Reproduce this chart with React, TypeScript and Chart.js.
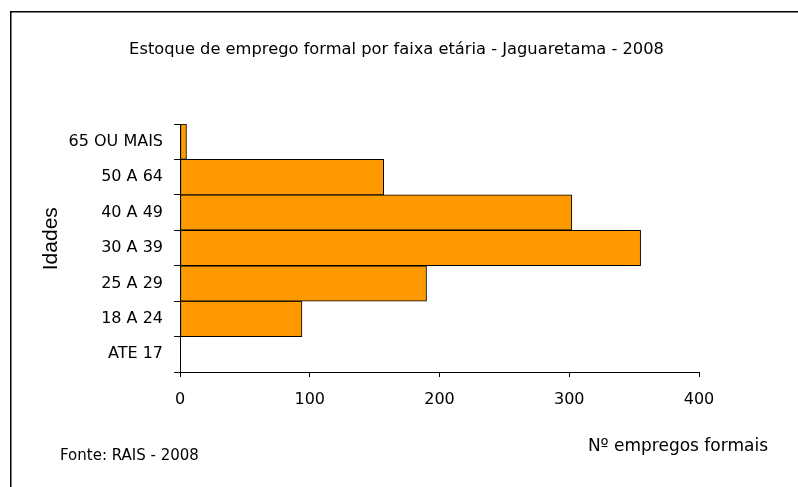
import { useEffect, useRef } from "react";
import { Chart, registerables } from "chart.js";

Chart.register(...registerables);

const categories = ["ATE 17", "18 A 24", "25 A 29", "30 A 39", "40 A 49", "50 A 64", "65 OU MAIS"];
const empregos = [0, 94, 190, 355, 302, 157, 5];
const xTicks = [0, 100, 200, 300, 400];

const titleText = "Estoque de emprego formal por faixa etária - Jaguaretama - 2008";
const yTitle = "Idades";
const xTitle = "Nº empregos formais";
const sourceText = "Fonte: RAIS - 2008";

const FONT = "'DejaVu Sans', sans-serif";

const extrasPlugin = {
  id: "extras",
  beforeDraw(chart: any) {
    const ctx = chart.ctx;
    ctx.save();
    ctx.fillStyle = "#ffffff";
    ctx.fillRect(0, 0, chart.width, chart.height);
    ctx.strokeStyle = "#000000";
    ctx.lineWidth = 1.5;
    ctx.beginPath();
    ctx.moveTo(10.75, chart.height + 5);
    ctx.lineTo(10.75, 11.75);
    ctx.lineTo(chart.width + 5, 11.75);
    ctx.stroke();
    ctx.restore();
  },
  afterDraw(chart: any) {
    const ctx = chart.ctx;
    ctx.save();
    ctx.fillStyle = "#000000";
    ctx.textBaseline = "alphabetic";
    // title
    ctx.font = "16.3px " + FONT;
    ctx.textAlign = "center";
    ctx.fillText(titleText, 396.5, 54);
    // y axis title
    ctx.save();
    ctx.translate(57.3, 238.7);
    ctx.rotate(-Math.PI / 2);
    ctx.font = "21px 'Liberation Sans', Arial, sans-serif";
    ctx.textAlign = "center";
    ctx.fillText(yTitle, 0, 0);
    ctx.restore();
    // x axis title
    ctx.font = "17px " + FONT;
    ctx.textAlign = "right";
    ctx.fillText(xTitle, 768, 451);
    // source
    ctx.font = "15px " + FONT;
    ctx.textAlign = "left";
    ctx.fillText(sourceText, 60, 460);
    ctx.restore();
  },
};

export default function App() {
  const ref = useRef<HTMLCanvasElement | null>(null);
  useEffect(() => {
    if (!ref.current) return;
    const chart = new Chart(ref.current, {
      type: "bar",
      data: {
        labels: categories,
        datasets: [
          {
            data: empregos,
            backgroundColor: "#FF9900",
            borderColor: "#000000",
            borderWidth: 1,
            borderSkipped: false,
            barPercentage: 1,
            categoryPercentage: 1,
          },
        ],
      },
      options: {
        indexAxis: "y",
        animation: false,
        responsive: false,
        devicePixelRatio: 1,
        layout: { padding: { left: 60, right: 99, top: 124, bottom: 75 } },
        plugins: {
          legend: { display: false },
          tooltip: { enabled: false },
          title: { display: false },
        },
        scales: {
          x: {
            type: "linear",
            min: 0,
            max: 400,
            afterBuildTicks: (scale: any) => {
              scale.ticks = xTicks.map((v) => ({ value: v }));
            },
            afterFit: (scale: any) => {
              scale.height = 40;
            },
            ticks: {
              color: "#000000",
              font: { family: FONT, size: 16 },
              padding: 13,
              maxRotation: 0,
            },
            grid: {
              display: true,
              drawOnChartArea: false,
              drawTicks: true,
              tickLength: 5,
              color: "#000000",
            },
            border: { display: true, color: "#000000", width: 1 },
          },
          y: {
            type: "category",
            reverse: true,
            offset: true,
            afterFit: (scale: any) => {
              scale.width = 120;
            },
            ticks: {
              color: "#000000",
              font: { family: FONT, size: 16 },
              padding: 11,
            },
            grid: {
              display: true,
              offset: true,
              drawOnChartArea: false,
              drawTicks: true,
              tickLength: 6,
              color: "#000000",
            },
            border: { display: true, color: "#000000", width: 1 },
          },
        },
      },
      plugins: [extrasPlugin],
    });
    return () => chart.destroy();
  }, []);
  return (
    <div style={{ position: "fixed", left: 0, top: 0, width: 798, height: 487, overflow: "hidden", background: "#fff" }}>
      <canvas ref={ref} width={798} height={487} style={{ display: "block", width: 798, height: 487 }} />
    </div>
  );
}
